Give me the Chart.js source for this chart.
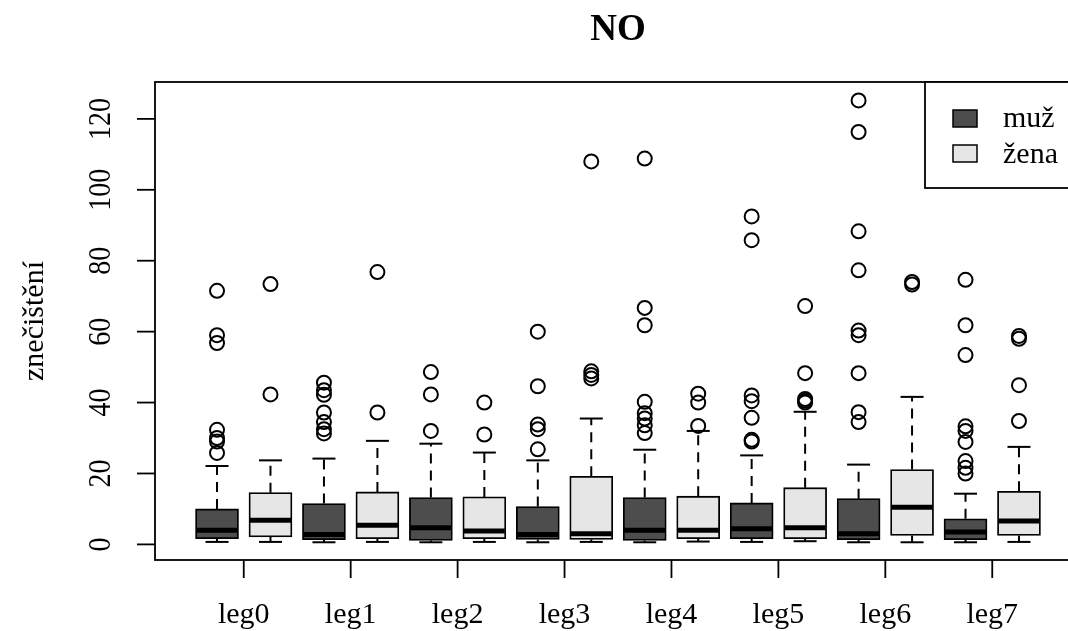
<!DOCTYPE html>
<html>
<head>
<meta charset="utf-8">
<script src="https://cdn.jsdelivr.net/npm/chart.js@4.4.1/dist/chart.umd.min.js"></script>
<style>
  html, body { margin: 0; padding: 0; background: #fff; overflow: hidden; }
  #wrap { width: 1068px; height: 631px; overflow: hidden; }
</style>
</head>
<body>
<div id="wrap"><canvas id="noChart" width="1090" height="631"></canvas></div>
<script>
// categories and groups
const legs = ["leg0", "leg1", "leg2", "leg3", "leg4", "leg5", "leg6", "leg7"];
const groups = ["muž", "žena"];
const yTicks = [0, 20, 40, 60, 80, 100, 120];

// muž
const muzLow = [0.7, 0.6, 0.6, 0.6, 0.6, 0.7, 0.6, 0.6];
const muzQ1 = [1.6, 1.3, 1.1, 1.4, 1.1, 1.6, 1.3, 1.3];
const muzMed = [4.0, 2.8, 4.7, 2.8, 4.0, 4.4, 3.0, 3.5];
const muzQ3 = [10.0, 11.5, 13.2, 10.7, 13.2, 11.7, 12.9, 7.2];
const muzHigh = [22.1, 24.2, 28.4, 23.7, 26.7, 25.1, 22.5, 14.3];
const muzOut = [
  [71.5, 59, 56.8, 32.3, 30, 29, 25.8],
  [45.6, 43.5, 42.2, 37.2, 34.5, 32.5, 31.3],
  [48.6, 42.3, 32],
  [60, 44.6, 33.8, 32.5, 26.8],
  [108.8, 66.7, 61.8, 40.2, 37, 35.5, 33.6, 31.4],
  [92.5, 85.8, 42, 40.4, 35.7, 29.5, 29],
  [125.2, 116.3, 88.3, 77.3, 60.3, 59, 48.3, 37.3, 34.5],
  [74.6, 61.8, 53.4, 33.3, 32, 28.9, 23.5, 21.6, 20]
];

// žena
const zenaLow = [0.7, 0.7, 0.7, 0.7, 0.8, 0.9, 0.6, 0.7];
const zenaQ1 = [2.1, 1.6, 1.6, 1.4, 1.6, 1.6, 2.5, 2.5];
const zenaMed = [6.8, 5.4, 3.8, 3.0, 4.0, 4.7, 10.5, 6.6];
const zenaQ3 = [14.6, 14.8, 13.4, 19.2, 13.6, 16.0, 21.1, 15.0];
const zenaHigh = [23.7, 29.2, 25.9, 35.5, 32.0, 37.4, 41.6, 27.5];
const zenaOut = [
  [73.4, 42.3],
  [76.8, 37.2],
  [40, 31],
  [108, 48.8, 47.8, 46.8],
  [42.5, 40, 33.4],
  [67.2, 48.3, 41, 40.5, 40],
  [74, 73.3],
  [58.8, 58, 44.9, 34.8]
];

const colMuz = "#4d4d4d";
const colZena = "#e6e6e6";
const serif = "'Liberation Serif', 'DejaVu Serif', serif";

// box position on the x scale: muž at odd, žena at even slots
const posOf = (i, g) => 2 * i + 1 + g;

const stats = [
  { low: muzLow, q1: muzQ1, med: muzMed, q3: muzQ3, high: muzHigh, out: muzOut },
  { low: zenaLow, q1: zenaQ1, med: zenaMed, q3: zenaQ3, high: zenaHigh, out: zenaOut }
];

function boxData(g) {
  return legs.map((l, i) => ({ x: posOf(i, g), y: [stats[g].q1[i], stats[g].q3[i]] }));
}
function outData(g) {
  const pts = [];
  legs.forEach((l, i) => stats[g].out[i].forEach(v => pts.push({ x: posOf(i, g), y: v })));
  return pts;
}

const BOX_W = 43;

const boxPlugin = {
  id: "boxParts",
  beforeDatasetsDraw(chart) {
    const { ctx, scales: { x, y } } = chart;
    ctx.save();
    ctx.strokeStyle = "#000";
    ctx.lineWidth = 2;
    stats.forEach((s, g) => {
      legs.forEach((l, i) => {
        const px = x.getPixelForValue(posOf(i, g));
        const pairs = [[s.q3[i], s.high[i]], [s.q1[i], s.low[i]]];
        pairs.forEach(([from, to]) => {
          ctx.setLineDash([10, 7]);
          ctx.beginPath();
          ctx.moveTo(px, y.getPixelForValue(from));
          ctx.lineTo(px, y.getPixelForValue(to));
          ctx.stroke();
          ctx.setLineDash([]);
          ctx.beginPath();
          ctx.moveTo(px - 11.5, y.getPixelForValue(to));
          ctx.lineTo(px + 11.5, y.getPixelForValue(to));
          ctx.stroke();
        });
      });
    });
    ctx.restore();
  },
  afterDatasetsDraw(chart) {
    const { ctx, scales: { x, y } } = chart;
    ctx.save();
    ctx.strokeStyle = "#000";
    ctx.lineWidth = 5;
    stats.forEach((s, g) => {
      legs.forEach((l, i) => {
        const px = x.getPixelForValue(posOf(i, g));
        const py = y.getPixelForValue(s.med[i]);
        ctx.beginPath();
        ctx.moveTo(px - BOX_W / 2 + 1, py);
        ctx.lineTo(px + BOX_W / 2 - 1, py);
        ctx.stroke();
      });
    });
    ctx.restore();
  },
  afterDraw(chart) {
    const { ctx, chartArea: a, scales: { x, y } } = chart;
    ctx.save();
    ctx.strokeStyle = "#000";
    ctx.fillStyle = "#000";
    ctx.lineWidth = 1.8;

    // frame
    ctx.strokeRect(a.left, a.top, a.right - a.left, a.bottom - a.top);

    // x axis ticks and labels
    ctx.font = "30px " + serif;
    ctx.textAlign = "center";
    ctx.textBaseline = "alphabetic";
    legs.forEach((l, i) => {
      const px = x.getPixelForValue(2 * i + 1.5);
      ctx.beginPath();
      ctx.moveTo(px, a.bottom);
      ctx.lineTo(px, a.bottom + 18);
      ctx.stroke();
      ctx.fillText(l, px, 623);
    });

    // y axis ticks and rotated labels (slightly tall glyphs, as in R's device)
    ctx.font = "28px " + serif;
    yTicks.forEach(v => {
      const py = y.getPixelForValue(v);
      ctx.beginPath();
      ctx.moveTo(a.left, py);
      ctx.lineTo(a.left - 18, py);
      ctx.stroke();
      ctx.save();
      ctx.translate(110, py);
      ctx.rotate(-Math.PI / 2);
      ctx.scale(1, 1.14);
      ctx.fillText(String(v), 0, 0);
      ctx.restore();
    });

    // y axis title
    ctx.font = "30px " + serif;
    ctx.save();
    ctx.translate(43, (a.top + a.bottom) / 2);
    ctx.rotate(-Math.PI / 2);
    ctx.fillText("znečištění", 0, 0);
    ctx.restore();

    // main title
    ctx.font = "bold 37px " + serif;
    ctx.fillText("NO", (a.left + a.right) / 2, 40);

    // legend
    const lx = 925, ly = a.top, lb = 188;
    ctx.fillStyle = "#fff";
    ctx.fillRect(lx, ly, a.right - lx, lb - ly);
    ctx.strokeRect(lx, ly, a.right - lx, lb - ly);
    ctx.font = "30px " + serif;
    ctx.textAlign = "left";
    const rows = [[colMuz, 110, 127], [colZena, 145, 163]];
    groups.forEach((name, g) => {
      const [c, top, base] = rows[g];
      ctx.fillStyle = c;
      ctx.fillRect(953, top, 24, 17);
      ctx.lineWidth = 1.5;
      ctx.strokeRect(953, top, 24, 17);
      ctx.fillStyle = "#000";
      ctx.fillText(name, 1003, base);
    });
    ctx.restore();
  }
};

new Chart(document.getElementById("noChart"), {
  type: "bar",
  data: {
    datasets: [
      {
        label: groups[0], data: boxData(0), backgroundColor: colMuz, borderColor: "#000",
        borderWidth: 1.8, borderSkipped: false, barThickness: BOX_W, grouped: false, order: 2
      },
      {
        label: groups[1], data: boxData(1), backgroundColor: colZena, borderColor: "#000",
        borderWidth: 1.8, borderSkipped: false, barThickness: BOX_W, grouped: false, order: 2
      },
      {
        type: "scatter", label: groups[0] + " out", data: outData(0), pointStyle: "circle",
        pointRadius: 7, backgroundColor: "rgba(0,0,0,0)", borderColor: "#000", borderWidth: 2, order: 1
      },
      {
        type: "scatter", label: groups[1] + " out", data: outData(1), pointStyle: "circle",
        pointRadius: 7, backgroundColor: "rgba(0,0,0,0)", borderColor: "#000", borderWidth: 2, order: 1
      }
    ]
  },
  options: {
    responsive: false,
    devicePixelRatio: 1,
    animation: false,
    layout: { padding: { left: 155, right: 8, top: 82, bottom: 71 } },
    plugins: { legend: { display: false }, tooltip: { enabled: false }, title: { display: false } },
    scales: {
      x: { type: "linear", min: -0.16, max: 17.16, offset: false, display: false },
      y: { type: "linear", min: -4.4, max: 130.4, display: false }
    }
  },
  plugins: [boxPlugin]
});
</script>
</body>
</html>
